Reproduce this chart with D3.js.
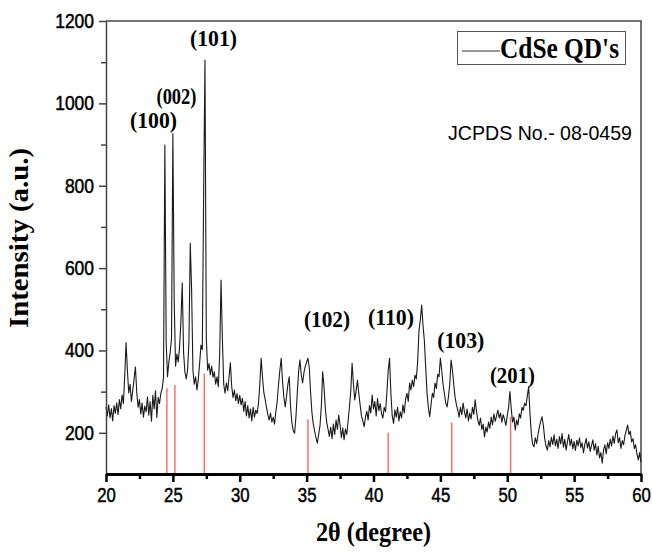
<!DOCTYPE html>
<html>
<head>
<meta charset="utf-8">
<script src="https://cdn.jsdelivr.net/npm/d3@7"></script>
<style>
  html, body { margin: 0; padding: 0; background: #fff; }
  svg { display: block; }
</style>
</head>
<body>
<script>
// ---- DATA ----
// intensity sampled every 0.1 degree of 2θ, typed per 5-degree segment
const seg20 = [262,241,268,236,259,229,266,247,273,244,281,258,292,271,338,419,352,297,318,276,
               303,331,360,298,262,281,246,272,238,265,251,287,243,276,228,291,258,302,237,286,
               271,296,308,335,899,420,336,372,395,430];
const seg25 = [927,520,362,391,372,408,470,564,395,348,331,352,420,660,548,352,318,336,304,329,
               368,413,402,780,1105,430,352,368,341,362,335,348,318,336,312,392,571,430,318,296,
               321,302,336,370,312,286,304,278,295,271];
const seg30 = [291,268,284,252,276,241,266,236,258,229,262,238,255,247,272,318,381,335,298,281,
               262,244,231,248,226,238,221,252,276,318,352,381,324,286,263,289,318,336,262,224,
               205,199,238,296,348,377,341,321,346,362];
const seg35 = [372,381,358,296,248,221,204,188,175,196,218,264,348,312,258,226,209,191,214,186,
               221,196,231,208,243,219,188,212,183,209,196,228,262,301,369,318,280,302,328,296,
               268,241,229,215,238,252,231,266,248,292];
const seg40 = [258,276,241,283,254,271,247,236,262,251,298,352,381,296,241,223,256,238,262,229,
               251,236,268,248,282,296,276,321,304,328,312,340,331,372,448,474,510,462,425,362,
               298,262,239,268,296,286,321,308,342,336];
const seg45 = [381,352,318,296,272,263,286,318,377,352,318,286,268,255,238,262,244,272,251,236,
               258,229,248,234,262,245,280,252,231,218,236,208,221,190,214,202,226,211,238,219,
               246,228,241,255,236,248,226,244,232,218];
const seg50 = [241,262,300,258,226,238,207,231,219,246,236,262,255,272,266,289,312,246,198,172,
               166,188,174,196,214,228,239,218,186,168,158,181,166,189,172,195,168,184,162,191,
               173,198,165,184,158,178,196,169,185,161];
const seg55 = [179,157,182,168,188,164,176,151,172,186,163,178,155,169,183,158,174,146,167,139,
               152,126,158,171,149,176,162,185,168,192,174,198,207,176,188,162,181,171,193,206,
               219,196,204,178,186,162,171,148,134,152,129];
const thetaStart = 20, thetaStep = 0.1;

// JCPDS 08-0459 reference lines
const refTheta = [24.55, 25.15, 27.35, 35.1, 41.1, 45.85, 50.25];
const refIntensity = [308, 316, 344, 233, 200, 225, 239];

// Miller index labels (anchored in data coordinates)
const hkl = ["(100)", "(002)", "(101)", "(102)", "(110)", "(103)", "(201)"];
const hklTheta = [23.55, 25.27, 28.04, 36.52, 41.31, 46.52, 50.39];
const hklIntensity = [940, 998, 1139, 457, 462, 406, 321];

const xTicks = [20, 25, 30, 35, 40, 45, 50, 55, 60];
const xMinor = [22.5, 27.5, 32.5, 37.5, 42.5, 47.5, 52.5, 57.5];
const yTicks = [200, 400, 600, 800, 1000, 1200];
const yMinor = [300, 500, 700, 900, 1100];
const seriesName = "CdSe QD's";
const noteText = "JCPDS No.- 08-0459";
const xTitle = "2θ (degree)";
const yTitle = "Intensity (a.u.)";

// ---- BUILD ----
const intensity = [].concat(seg20, seg25, seg30, seg35, seg40, seg45, seg50, seg55);
const data = intensity.map((v, i) => ({ t: thetaStart + i * thetaStep, v }));

const W = 652, H = 552;
const svg = d3.select("body").append("svg").attr("width", W).attr("height", H);

const x = d3.scaleLinear().domain([20, 60]).range([106, 641]);
const y = d3.scaleLinear().domain([100, 1200]).range([474, 21]);

const sans = "'Liberation Sans', Arial, sans-serif";
const serif = "'Liberation Serif', 'Times New Roman', serif";

// frame (top / right)
svg.append("path")
  .attr("d", `M${x(20)},${y(1200)}H${x(60)}V${y(100)}`)
  .attr("fill", "none").attr("stroke", "#444").attr("stroke-width", 1.5);

// red reference lines
svg.append("g").selectAll("line").data(refTheta).join("line")
  .attr("x1", d => x(d)).attr("x2", d => x(d))
  .attr("y1", y(100)).attr("y2", (d, i) => y(refIntensity[i]))
  .attr("stroke", "#ff6464").attr("stroke-width", 1.4);

// XRD pattern
svg.append("path").datum(data)
  .attr("d", d3.line().x(d => x(d.t)).y(d => y(d.v)))
  .attr("fill", "none").attr("stroke", "#1a1a1a").attr("stroke-width", 1.1)
  .attr("stroke-linejoin", "round");

// y axis
const yAxis = svg.append("g").attr("transform", `translate(${x(20)},0)`)
  .call(d3.axisLeft(y).tickValues(yTicks).tickSize(7).tickSizeOuter(0).tickPadding(5).tickFormat(d3.format("d")));
yAxis.select(".domain").attr("stroke", "#444").attr("stroke-width", 1.5);
yAxis.selectAll(".tick line").attr("stroke", "#444").attr("stroke-width", 1.5);
yAxis.selectAll("text")
  .attr("font-family", sans).attr("font-size", 20).attr("fill", "#000")
  .attr("stroke", "#000").attr("stroke-width", 0.5)
  .attr("textLength", d => String(d).length * 9.7).attr("lengthAdjust", "spacingAndGlyphs");
svg.append("g").attr("transform", `translate(${x(20)},0)`)
  .call(d3.axisLeft(y).tickValues(yMinor).tickSize(5).tickFormat(""))
  .call(g => g.select(".domain").remove())
  .selectAll(".tick line").attr("stroke", "#444").attr("stroke-width", 1.5);

// x axis
const xAxis = svg.append("g").attr("transform", `translate(0,${y(100)})`)
  .call(d3.axisBottom(x).tickValues(xTicks).tickSize(8).tickSizeOuter(0).tickPadding(6).tickFormat(d3.format("d")));
xAxis.select(".domain").attr("stroke", "#000").attr("stroke-width", 3);
xAxis.selectAll(".tick line").attr("stroke", "#000").attr("stroke-width", 2.5);
xAxis.selectAll("text")
  .attr("font-family", sans).attr("font-size", 20).attr("fill", "#000")
  .attr("stroke", "#000").attr("stroke-width", 0.5)
  .attr("textLength", d => String(d).length * 9.3).attr("lengthAdjust", "spacingAndGlyphs");
svg.append("g").attr("transform", `translate(0,${y(100)})`)
  .call(d3.axisBottom(x).tickValues(xMinor).tickSize(5).tickFormat(""))
  .call(g => g.select(".domain").remove())
  .selectAll(".tick line").attr("stroke", "#000").attr("stroke-width", 2.5);

// axis titles
svg.append("text")
  .attr("x", (x(20) + x(60)) / 2).attr("y", 541)
  .attr("text-anchor", "middle").attr("font-family", serif).attr("font-weight", "bold")
  .attr("font-size", 27).attr("textLength", 115).attr("lengthAdjust", "spacingAndGlyphs")
  .text(xTitle);
svg.append("text")
  .attr("transform", "translate(28,238) rotate(-90)")
  .attr("text-anchor", "middle").attr("font-family", serif).attr("font-weight", "bold")
  .attr("font-size", 27).attr("textLength", 180).attr("lengthAdjust", "spacingAndGlyphs")
  .text(yTitle);

// hkl labels
const hklWidth = [47, 40, 47, 46, 46, 47, 45];
svg.append("g").selectAll("text").data(hkl).join("text")
  .attr("x", (d, i) => x(hklTheta[i])).attr("y", (d, i) => y(hklIntensity[i]))
  .attr("text-anchor", "middle").attr("font-family", serif).attr("font-weight", "bold")
  .attr("font-size", 24).attr("textLength", (d, i) => hklWidth[i]).attr("lengthAdjust", "spacingAndGlyphs")
  .text(d => d);

// legend
const lg = svg.append("g");
lg.append("rect").attr("x", 457.5).attr("y", 31.5).attr("width", 168).attr("height", 33)
  .attr("fill", "#fff").attr("stroke", "#555").attr("stroke-width", 1);
lg.append("line").attr("x1", 462).attr("x2", 500).attr("y1", 51).attr("y2", 51)
  .attr("stroke", "#333").attr("stroke-width", 1);
lg.append("text").attr("x", 500).attr("y", 58)
  .attr("font-family", serif).attr("font-weight", "bold").attr("font-size", 30)
  .attr("textLength", 119).attr("lengthAdjust", "spacingAndGlyphs")
  .text(seriesName);

// JCPDS note
svg.append("text").attr("x", 448).attr("y", 140)
  .attr("font-family", sans).attr("font-size", 21)
  .attr("textLength", 184).attr("lengthAdjust", "spacingAndGlyphs")
  .text(noteText);
</script>
</body>
</html>
